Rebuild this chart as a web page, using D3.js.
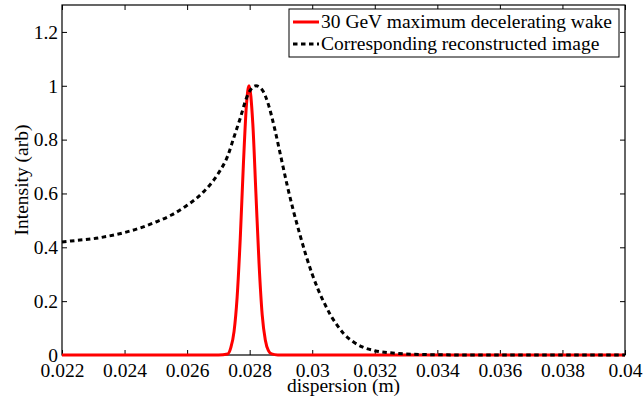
<!DOCTYPE html>
<html>
<meta charset="utf-8">
<style>
body { margin: 0; background: #fff; }
text { font-family: "Liberation Serif", "Times New Roman", serif; font-size: 19.5px; fill: #000; }
</style>
<head>
<script src="https://d3js.org/d3.v7.min.js"></script>
</head>
<body>
<script>
// red: 30 GeV maximum decelerating wake
var wakeX = [0.022, 0.0270, 0.0273, 0.0274, 0.0275, 0.0276, 0.0277, 0.0278, 0.0279, 0.02798,
             0.0281, 0.0282, 0.0283, 0.0284, 0.0285, 0.0286, 0.0287, 0.0289, 0.04];
var wakeY = [0, 0, 0.004, 0.028, 0.087, 0.216, 0.435, 0.71, 0.934, 1.0,
             0.86, 0.6, 0.34, 0.15, 0.056, 0.016, 0.004, 0, 0];

// black dashed: reconstructed image
var imgX = [0.0220, 0.0225, 0.0230, 0.0235, 0.0240, 0.0245, 0.0250, 0.0255, 0.0260, 0.0265,
            0.0270, 0.0273, 0.0275, 0.0277, 0.0279, 0.0281, 0.0282, 0.0284, 0.0286, 0.0288,
            0.0290, 0.0292, 0.0294, 0.0296, 0.0298, 0.0300, 0.0302, 0.0304, 0.0306, 0.0308,
            0.0310, 0.0313, 0.0316, 0.0320, 0.0325, 0.0330, 0.0335, 0.0340, 0.0350, 0.0400];
var imgY = [0.420, 0.426, 0.432, 0.442, 0.455, 0.472, 0.494, 0.520, 0.556, 0.603,
            0.675, 0.740, 0.810, 0.880, 0.955, 0.995, 1.000, 0.985, 0.930, 0.840,
            0.735, 0.630, 0.535, 0.450, 0.370, 0.300, 0.240, 0.190, 0.145, 0.110,
            0.080, 0.050, 0.030, 0.016, 0.008, 0.004, 0.002, 0.001, 0, 0];

var xTicks = [0.022, 0.024, 0.026, 0.028, 0.03, 0.032, 0.034, 0.036, 0.038, 0.04];
var xTickLabels = ["0.022", "0.024", "0.026", "0.028", "0.03", "0.032", "0.034", "0.036", "0.038", "0.04"];
var yTicks = [0, 0.2, 0.4, 0.6, 0.8, 1, 1.2];
var yTickLabels = ["0", "0.2", "0.4", "0.6", "0.8", "1", "1.2"];
var legendLabels = ["30 GeV maximum decelerating wake", "Corresponding reconstructed image"];

var W = 643, H = 402;
var margin = {top: 5, right: 18, bottom: 47, left: 62};
var width = W - margin.left - margin.right,
    height = H - margin.top - margin.bottom;
var FONT = "'Liberation Serif', 'Times New Roman', serif";

var svg = d3.select("body").append("svg")
    .attr("width", W).attr("height", H);
var g = svg.append("g")
    .attr("transform", "translate(" + margin.left + "," + margin.top + ")");

var x = d3.scaleLinear().domain([0.022, 0.04]).range([0, width]);
var y = d3.scaleLinear().domain([0, 1.3]).range([height, 0]);

// axes, ticks pointing inwards, mirrored on top/right
var tickLen = 5;
function clean(a) {
  a.select(".domain").remove();
  a.attr("font-family", FONT).attr("font-size", 19.5);
  a.selectAll(".tick line").attr("stroke", "#000");
  a.selectAll(".tick text").style("font-family", FONT).style("font-size", "19.5px").attr("fill", "#000");
}
g.append("g").attr("transform", "translate(0," + height + ")")
  .call(d3.axisBottom(x).tickValues(xTicks).tickSizeInner(-tickLen).tickSizeOuter(0)
        .tickPadding(8).tickFormat(function(d, i) { return xTickLabels[i]; }))
  .call(clean);
g.append("g")
  .call(d3.axisTop(x).tickValues(xTicks).tickSizeInner(-tickLen).tickSizeOuter(0).tickFormat(""))
  .call(clean);
g.append("g")
  .call(d3.axisLeft(y).tickValues(yTicks).tickSizeInner(-tickLen).tickSizeOuter(0)
        .tickPadding(4).tickFormat(function(d, i) { return yTickLabels[i]; }))
  .call(clean);
g.append("g").attr("transform", "translate(" + width + ",0)")
  .call(d3.axisRight(y).tickValues(yTicks).tickSizeInner(-tickLen).tickSizeOuter(0).tickFormat(""))
  .call(clean);

g.append("rect")
  .attr("width", width).attr("height", height)
  .attr("fill", "none").attr("stroke", "#000").attr("stroke-width", 1.2);

var wake = wakeX.map(function(d, i) { return [d, wakeY[i]]; });
var img = imgX.map(function(d, i) { return [d, imgY[i]]; });

var line = d3.line()
  .x(function(d) { return x(d[0]); })
  .y(function(d) { return y(d[1]); })
  .curve(d3.curveMonotoneX);

g.append("path").datum(wake)
  .attr("d", line).attr("fill", "none")
  .attr("stroke", "#ff0000").attr("stroke-width", 3);
g.append("path").datum(img)
  .attr("d", line).attr("fill", "none")
  .attr("stroke", "#000").attr("stroke-width", 3)
  .attr("stroke-dasharray", "4.5,3.5");

// axis titles
svg.append("text")
  .attr("x", margin.left + width / 2).attr("y", 392)
  .attr("text-anchor", "middle").text("dispersion (m)");
svg.append("text")
  .attr("transform", "translate(28," + (margin.top + height / 2) + ") rotate(-90)")
  .attr("text-anchor", "middle").text("Intensity (arb)");

// legend
var lg = svg.append("g").attr("transform", "translate(289,9)");
lg.append("rect").attr("width", 330).attr("height", 48)
  .attr("fill", "#fff").attr("stroke", "#000").attr("stroke-width", 1);
var styles = [{c: "#ff0000", dash: null}, {c: "#000", dash: "4.5,3.5"}];
legendLabels.forEach(function(t, i) {
  var yy = 13 + i * 22;
  lg.append("line").attr("x1", 4).attr("x2", 30).attr("y1", yy).attr("y2", yy)
    .attr("stroke", styles[i].c).attr("stroke-width", 3)
    .attr("stroke-dasharray", styles[i].dash);
  lg.append("text").attr("x", 32).attr("y", yy).attr("dy", "0.33em").text(t);
});
</script>
</body>
</html>
